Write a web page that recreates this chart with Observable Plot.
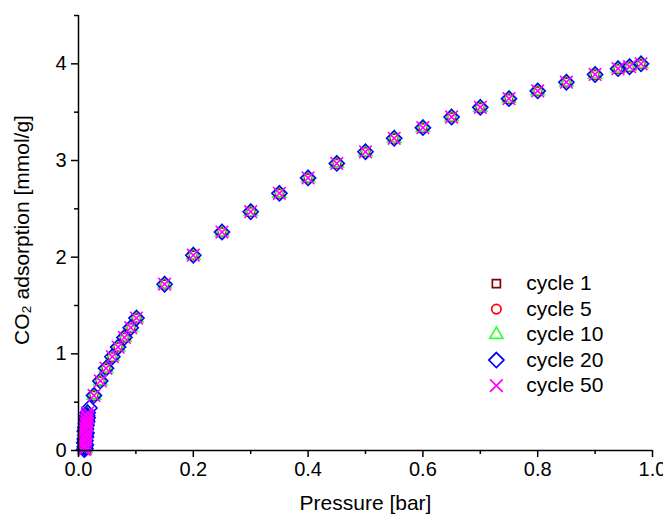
<!DOCTYPE html>
<html><head><meta charset="utf-8">
<script src="https://cdn.jsdelivr.net/npm/d3@7"></script>
<script src="https://cdn.jsdelivr.net/npm/@observablehq/plot@0.6"></script>
<style>
body{margin:0;background:#fff}
svg{display:block;overflow:visible}
#chart svg g[aria-label="tick labels"] text {letter-spacing:-1px}
</style>
</head><body><div id="chart"></div>
<script>
// Isotherm points (bar, mmol/g); all cycles overlap
const pressure = [0.027,0.038,0.048,0.059,0.069,0.080,0.091,0.101,0.15,0.20,0.25,0.30,0.35,0.40,0.45,0.50,0.55,0.60,0.65,0.70,0.75,0.80,0.85,0.90,0.94,0.96,0.98];
const uptake   = [0.57,0.72,0.85,0.97,1.07,1.17,1.27,1.37,1.72,2.02,2.26,2.47,2.66,2.82,2.97,3.09,3.23,3.34,3.45,3.55,3.64,3.72,3.81,3.89,3.95,3.97,4.00];
// Dense low-pressure cluster
const lowPressure = [0.010,0.012,0.011,0.013,0.010,0.012,0.011,0.013,0.012,0.014,0.011,0.013,0.012,0.014,0.013,0.015,0.014,0.016,0.015,0.016];
const lowUptake   = [0.01,0.02,0.04,0.06,0.08,0.10,0.12,0.14,0.16,0.18,0.20,0.22,0.24,0.26,0.28,0.30,0.32,0.34,0.36,0.39];
// Extra point visible only for cycle 20
const extraPressure20 = [0.019];
const extraUptake20   = [0.44];

const cycles  = ["cycle 1","cycle 5","cycle 10","cycle 20","cycle 50"];
const symbols = ["square2","circle","triangle2","diamond2","times"];
const colors  = ["#800000","#FF0000","#33FF33","#0000FF","#FF00FF"];
const radii   = [5.1,4.7,6.3,6.8,5.8];

const xMajor = [0,0.2,0.4,0.6,0.8,1.0];
const xMinor = [0.1,0.3,0.5,0.7,0.9];
const yMajor = [0,1,2,3,4];
const yMinor = [0.5,1.5,2.5,3.5,4.5];

const legendX = 0.728, legendTop = 1.727, legendStep = 0.264;

function rowsFor(i) {
  const rows = [];
  lowPressure.forEach((p, j) => rows.push({p, q: lowUptake[j]}));
  if (cycles[i] === "cycle 20") extraPressure20.forEach((p, j) => rows.push({p, q: extraUptake20[j]}));
  pressure.forEach((p, j) => rows.push({p, q: uptake[j]}));
  return rows;
}

const font = "'Liberation Sans', Arial, sans-serif";
const marks = [];
cycles.forEach((c, i) => {
  marks.push(Plot.dot(rowsFor(i), {x: "p", y: "q", symbol: symbols[i], stroke: colors[i], fill: "none", r: radii[i], strokeWidth: 1.6}));
});
cycles.forEach((c, i) => {
  marks.push(Plot.dot([c], {x: () => legendX, y: () => legendTop - i * legendStep, symbol: symbols[i], stroke: colors[i], fill: "none", r: radii[i], strokeWidth: 1.7}));
});
marks.push(Plot.text(cycles, {x: () => legendX, y: (d, i) => legendTop - i * legendStep, text: d => d, dx: 30, textAnchor: "start", fontSize: 21, fill: "#000"}));

marks.push(
  Plot.axisX(xMajor, {tickSize: 7, tickFormat: () => "", strokeWidth: 1.5, stroke: "#000", label: null}),
  Plot.axisX(xMinor, {tickSize: 4, tickFormat: () => "", strokeWidth: 1.5, stroke: "#000", label: null}),
  Plot.axisY(yMajor, {tickSize: 7, tickFormat: () => "", strokeWidth: 1.5, stroke: "#000", label: null}),
  Plot.axisY(yMinor, {tickSize: 4, tickFormat: () => "", strokeWidth: 1.5, stroke: "#000", label: null}),
  Plot.text(xMajor, {x: d => d, frameAnchor: "bottom", lineAnchor: "top", textAnchor: "middle", dy: 11, text: d3.format(".1f"), fontSize: 20, fill: "#000", ariaLabel: "tick labels"}),
  Plot.text(yMajor, {y: d => d, frameAnchor: "left", lineAnchor: "middle", textAnchor: "end", dx: -12, text: d3.format("d"), fontSize: 20, fill: "#000", ariaLabel: "tick labels"}),
  Plot.ruleY([0], {stroke: "#000", strokeWidth: 1.5}),
  Plot.ruleX([0], {stroke: "#000", strokeWidth: 1.5}),
  Plot.text(["Pressure [bar]"], {frameAnchor: "bottom", lineAnchor: "middle", textAnchor: "middle", dy: 53, fontSize: 21, fill: "#000"}),
  Plot.text(["CO\u2082 adsorption [mmol/g]"], {frameAnchor: "left", lineAnchor: "middle", textAnchor: "middle", dx: -56, dy: -3, rotate: -90, fontSize: 21, fill: "#000"})
);

const chart = Plot.plot({
  width: 663, height: 514,
  marginLeft: 78, marginRight: 11, marginTop: 15, marginBottom: 64,
  x: {domain: [0, 1]},
  y: {domain: [0, 4.5]},
  style: {fontFamily: font, fontSize: "18px", background: "#fff", color: "#000", overflow: "visible"},
  marks
});
document.getElementById("chart").appendChild(chart);
</script>
</body></html>
